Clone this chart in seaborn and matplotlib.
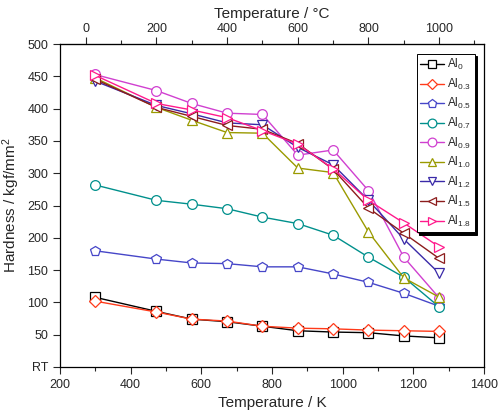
import numpy as np
import pandas as pd
import matplotlib
matplotlib.use("Agg")
import matplotlib.pyplot as plt
import seaborn as sns

# temperatures (K): RT plus 200..1000 C
temp_k = [298, 473, 573, 673, 773, 873, 973, 1073, 1173, 1273]

al_0 = [108, 86, 74, 70, 63, 56, 54, 53, 48, 45]
al_03 = [102, 85, 74, 71, 63, 60, 59, 57, 56, 55]
al_05 = [180, 167, 161, 160, 155, 155, 144, 131, 114, 94]
al_07 = [282, 258, 252, 245, 232, 222, 204, 170, 139, 93]
al_09 = [453, 428, 408, 393, 391, 328, 336, 273, 170, 107]
al_10 = [448, 402, 382, 363, 362, 308, 301, 209, 138, 108]
al_12 = [443, 405, 392, 378, 375, 340, 313, 258, 198, 145]
al_15 = [446, 402, 388, 374, 368, 346, 306, 246, 207, 168]
al_18 = [452, 408, 398, 386, 366, 345, 307, 258, 223, 186]

labels = ["Al$_{0}$", "Al$_{0.3}$", "Al$_{0.5}$", "Al$_{0.7}$", "Al$_{0.9}$",
          "Al$_{1.0}$", "Al$_{1.2}$", "Al$_{1.5}$", "Al$_{1.8}$"]
series = [al_0, al_03, al_05, al_07, al_09, al_10, al_12, al_15, al_18]
colors = ["#000000", "#ff3a1a", "#4646c8", "#00908c", "#d040d0",
          "#9a9a00", "#3a2aa8", "#8c1c1c", "#ff1a8c"]
markers = ["s", "D", "p", "o", "o", "^", "v", "<", ">"]

sns.set_style("white")
plt.rcParams['font.family'] = ['Liberation Sans', 'DejaVu Sans']
plt.rcParams['mathtext.default'] = 'regular'

fig = plt.figure(figsize=(5, 4.16), dpi=100)
ax = fig.add_axes([0.12, 0.118, 0.848, 0.776])

for lab, vals, col, mk in zip(labels, series, colors, markers):
    df = pd.DataFrame({"T": temp_k, "H": vals})
    sns.lineplot(data=df, x="T", y="H", ax=ax, color=col, marker=mk,
                 markersize=7 if mk != "D" else 6, markerfacecolor="white",
                 markeredgecolor=col, markeredgewidth=0.9, linewidth=1.0,
                 label=lab)

ax.set_xlim(200, 1400)
ax.set_ylim(0, 500)
ax.set_xticks(np.arange(200, 1401, 200))
ax.set_xticks(np.arange(300, 1400, 200), minor=True)
ax.set_yticks(np.arange(0, 501, 50))
ax.set_yticklabels(["RT"] + [str(v) for v in range(50, 501, 50)])
ax.tick_params(axis="both", which="major", direction="out", length=5,
               width=0.8, labelsize=9, bottom=True, left=True)
ax.tick_params(axis="x", which="minor", direction="out", length=3,
               width=0.8, bottom=True)
for s in ax.spines.values():
    s.set_color("black")
    s.set_linewidth(0.9)

ax.set_xlabel("Temperature / K", fontsize=11)
ax.set_ylabel("Hardness / kgf/mm$^2$", fontsize=11)

top = ax.secondary_xaxis("top", functions=(lambda k: k - 273, lambda c: c + 273))
top.set_xticks(np.arange(0, 1001, 200))
top.set_xticks(np.arange(100, 1101, 200), minor=True)
top.tick_params(which="major", direction="out", length=5, width=0.8,
                labelsize=9, pad=1.5)
top.tick_params(which="minor", direction="out", length=3, width=0.8)
top.set_xlabel("Temperature / \u00b0C", fontsize=11, labelpad=4)

leg = ax.legend(loc="upper right", fontsize=8.5, frameon=True, fancybox=False,
                shadow={"color": "black", "alpha": 1.0}, borderaxespad=0.8,
                handlelength=2.0, labelspacing=0.38, handletextpad=0.3,
                borderpad=0.3, markerscale=0.9)
leg.get_frame().set_edgecolor("black")
leg.get_frame().set_linewidth(0.7)

fig.savefig("out.png", dpi=100)
